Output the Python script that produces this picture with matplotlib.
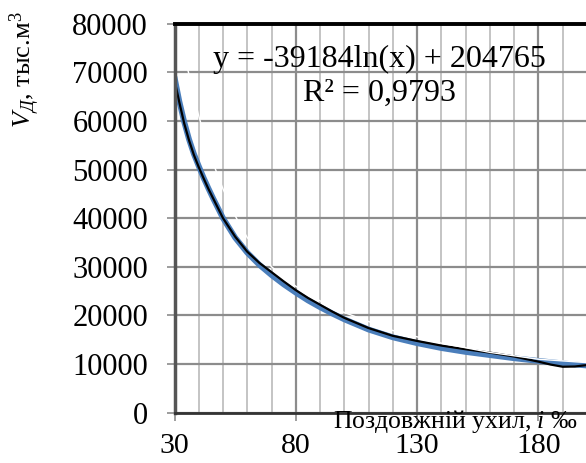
import numpy as np
import matplotlib.pyplot as plt

plt.rcParams['font.family'] = ['Liberation Serif', 'DejaVu Serif']
plt.rcParams['mathtext.fontset'] = 'custom'
plt.rcParams['mathtext.rm'] = 'Liberation Serif'
plt.rcParams['mathtext.it'] = 'Liberation Serif:italic'

# data
slope = [30, 32, 34, 36, 38, 40, 42, 44, 46, 48, 50, 55, 60, 65, 70, 75,
         80, 85, 90, 95, 100, 110, 120, 130, 140, 150, 160, 170, 180, 185,
         190, 195, 200]
v_black = [68400, 63800, 59500, 56000, 53000, 50500, 48200, 46000, 44000,
           42000, 40000, 36200, 33100, 30800, 28900, 27000, 25200, 23600,
           22200, 20800, 19500, 17400, 15800, 14750, 13800, 13050, 12350,
           11550, 10500, 9900, 9450, 9500, 9800]
blue_x = [30, 32, 34, 36, 38, 40, 42, 44, 46, 48, 50, 55, 60, 65, 70, 75,
          80, 85, 90, 95, 100, 110, 120, 130, 140, 150, 160, 170, 180, 190, 200]
v_blue = [69000, 64000, 59800, 56200, 53200, 50700, 48300, 46100, 44000,
          42000, 40000, 36000, 32900, 30400, 28300, 26400, 24700, 23100,
          21700, 20400, 19200, 17100, 15500, 14300, 13300, 12500, 11850,
          11200, 10650, 10150, 9700]
trend_x = [31, 33, 36, 40, 45, 50, 55, 60, 70, 80, 90, 100, 120, 140, 160, 180, 200]
trend_y = [80000, 75500, 69500, 61000, 52500, 46000, 40500, 36000, 30000,
           26000, 23000, 20600, 16900, 14300, 12400, 11000, 10300]

fig = plt.figure(figsize=(5.86, 4.63), dpi=100)
ax = fig.add_axes([174.5 / 586, 1 - 412.7 / 463, 412.5 / 586, (412.7 - 23.7) / 463])

ax.set_xlim(30, 200)
ax.set_ylim(0, 80000)

# grid
ax.set_xticks([30, 80, 130, 180])
ax.set_xticks(np.arange(40, 200, 10), minor=True)
ax.set_yticks(np.arange(0, 80001, 10000))
ax.grid(True, which='minor', axis='x', color='#bfbfbf', linewidth=1.3)
ax.grid(True, which='major', axis='x', color='#8c8c8c', linewidth=1.6)
ax.grid(True, which='major', axis='y', color='#8c8c8c', linewidth=1.6)
ax.set_axisbelow(True)

ax.plot(blue_x, v_blue, color='#4a7ebb', linewidth=4.2, solid_capstyle='round')
ax.plot(slope, v_black, color='black', linewidth=1.6)
ax.plot(trend_x, trend_y, color='white', linewidth=1.0)

ax.spines['left'].set_color('#555555')
ax.spines['left'].set_linewidth(2.5)
ax.spines['bottom'].set_color('#333333')
ax.spines['bottom'].set_linewidth(2)
ax.spines['top'].set_color('black')
ax.spines['top'].set_linewidth(2.8)
ax.spines['right'].set_visible(False)

ax.tick_params(axis='y', which='major', length=6, width=1.2, color='#8c8c8c',
               labelsize=22, pad=13)
ax.tick_params(axis='x', which='major', length=6, width=1.2, color='#8c8c8c',
               labelsize=21.5, pad=8.5)
ax.tick_params(axis='x', which='minor', length=0)

ax.text(0.496, 0.907, 'y = -39184ln(x) + 204765', transform=ax.transAxes,
        ha='center', va='center', fontsize=23)
ax.text(0.496, 0.822, 'R² = 0,9793', transform=ax.transAxes,
        ha='center', va='center', fontsize=23)

fig.text(578 / 586, 1 - 421.5 / 463, r'Поздовжній ухил, $\mathit{і}$ ‰',
         ha='right', va='center', fontsize=18.5)
fig.text(25 / 586, 1 - 70 / 463, r'$V_{\mathit{Д}}$, тыс.м$^3$', rotation=90,
         ha='center', va='center', fontsize=19)

fig.savefig('out.png', dpi=100)
